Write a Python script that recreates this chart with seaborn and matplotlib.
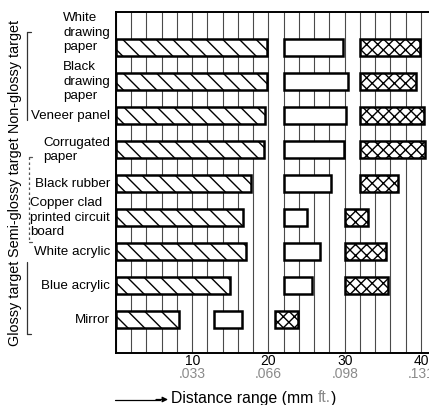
import numpy as np
import pandas as pd
import matplotlib
matplotlib.use("Agg")
import matplotlib.pyplot as plt
from matplotlib.lines import Line2D
from matplotlib.ticker import MultipleLocator
import seaborn as sns

# ---------------- data ----------------
categories = ["White\ndrawing\npaper", "Black\ndrawing\npaper", "Veneer panel",
              "Corrugated\npaper", "Black rubber",
              "Copper clad\nprinted circuit\nboard", "White acrylic",
              "Blue acrylic", "Mirror"]
s1_start = [0, 0, 0, 0, 0, 0, 0, 0, 0]
s1_end = [19.8, 19.8, 19.6, 19.4, 17.7, 16.7, 17.1, 14.9, 8.3]
s2_start = [22, 22, 22, 22, 22, 22, 22, 22, 12.9]
s2_end = [29.8, 30.4, 30.1, 29.9, 28.2, 25.0, 26.7, 25.7, 16.5]
s3_start = [32, 32, 32, 32, 32, 30, 30, 30, 20.9]
s3_end = [39.9, 39.3, 40.4, 40.5, 37.0, 33.0, 35.4, 35.7, 23.9]
mm_ticks = [10, 20, 30, 40]
mm_labels = ["10", "20", "30", "40"]
ft_labels = [".033", ".066", ".098", ".131"]
groups = ["Non-glossy target", "Semi-glossy target", "Glossy target"]

# ---------------- style ----------------
sns.set_theme(style="white")
plt.rcParams["font.family"] = ["Liberation Sans", "DejaVu Sans"]
plt.rcParams["hatch.linewidth"] = 1.0

W, H = 429, 405
fig = plt.figure(figsize=(W / 100, H / 100), dpi=100)
ax = fig.add_axes([116 / W, 1 - 353 / H, 1 - 116 / W, (353 - 12) / H])


def px(x, y):
    return (x / W, 1 - y / H)


series = [(s1_start, s1_end, "\\\\"), (s2_start, s2_end, None), (s3_start, s3_end, "xxx")]
for starts, ends, hatch in series:
    df = pd.DataFrame({"cat": categories,
                       "len": np.array(ends) - np.array(starts)})
    sns.barplot(data=df, y="cat", x="len", orient="h", ax=ax,
                left=np.array(starts, dtype=float), width=0.5,
                color="white", edgecolor="black", linewidth=1.8,
                hatch=hatch, errorbar=None, saturation=1, zorder=3)

ax.set_xlim(0, 41.05)
ax.set_ylim(8.97, -1.05)
ax.set_xlabel("")
ax.set_ylabel("")
ax.set_yticks([])

ax.set_xticks(mm_ticks)
ax.set_xticklabels(mm_labels, fontsize=10)
ax.xaxis.set_minor_locator(MultipleLocator(2))
ax.tick_params(axis="x", which="both", length=0, pad=1.0, colors="black")
ax.grid(axis="x", which="both", color="#4a4a4a", linewidth=0.8)
ax.set_axisbelow(True)

for side in ["left", "bottom", "top"]:
    ax.spines[side].set_visible(True)
    ax.spines[side].set_color("black")
    ax.spines[side].set_linewidth(1.4)
ax.spines["right"].set_visible(False)

# gray ft labels under mm labels
for xv, lab in zip(mm_ticks, ft_labels):
    ax.annotate(lab, xy=(xv, 0), xycoords=("data", "axes fraction"),
                xytext=(0, -10.3), textcoords="offset points",
                ha="center", va="top", fontsize=10, color="#8a8a8a",
                annotation_clip=False)

# category labels
for i, lab in enumerate(categories):
    yy = i - 0.44 if i == 0 else i
    ax.annotate(lab, xy=(0, yy), xycoords=("axes fraction", "data"),
                xytext=(-4.3, 0), textcoords="offset points",
                ha="right", va="center", multialignment="left",
                fontsize=9.6, linespacing=1.27, color="black",
                annotation_clip=False)

# group labels and brackets
group_y = [76, 197, 303]
for g, gy in zip(groups, group_y):
    fig.text(*px(15, gy), g, rotation=90, ha="center", va="center",
             fontsize=10.4, color="black")

lw = 0.9
fig.add_artist(Line2D(*zip(px(27, 32), px(27, 120)), transform=fig.transFigure, color="#333", lw=lw))
fig.add_artist(Line2D(*zip(px(27, 32), px(31, 32)), transform=fig.transFigure, color="#333", lw=lw))
fig.add_artist(Line2D(*zip(px(29, 157), px(29, 242)), transform=fig.transFigure, color="#555", lw=lw, ls=(0, (2, 2))))
fig.add_artist(Line2D(*zip(px(29, 157), px(32, 157)), transform=fig.transFigure, color="#555", lw=lw))
fig.add_artist(Line2D(*zip(px(29, 242), px(32, 242)), transform=fig.transFigure, color="#555", lw=lw))
fig.add_artist(Line2D(*zip(px(27, 262), px(27, 334)), transform=fig.transFigure, color="#333", lw=lw))
fig.add_artist(Line2D(*zip(px(27, 334), px(31, 334)), transform=fig.transFigure, color="#333", lw=lw))

# x-axis label with arrow
fig.add_artist(Line2D(*zip(px(115, 399.5), px(160, 399.5)), transform=fig.transFigure, color="black", lw=0.9))
ax.annotate("", xy=(168, H - 399.5), xycoords="figure pixels",
            xytext=(156, H - 399.5), textcoords="figure pixels",
            arrowprops=dict(arrowstyle="-|>", color="black", lw=0.9,
                            mutation_scale=8, shrinkA=0, shrinkB=0))

renderer = fig.canvas.get_renderer()
t1 = fig.text(171 / W, 2.5 / H, "Distance range (mm", fontsize=11.3,
              color="black", ha="left", va="baseline")
bb = t1.get_window_extent(renderer)
space = 11.3 * 100 / 72 * 0.278
t2 = fig.text((bb.x1 + space) / W, 2.5 / H, "ft.", fontsize=11.3,
              color="#8a8a8a", ha="left", va="baseline")
bb2 = t2.get_window_extent(renderer)
fig.text(bb2.x1 / W, 2.5 / H, ")", fontsize=11.3, color="black",
         ha="left", va="baseline")

fig.savefig("out.png", dpi=100)
